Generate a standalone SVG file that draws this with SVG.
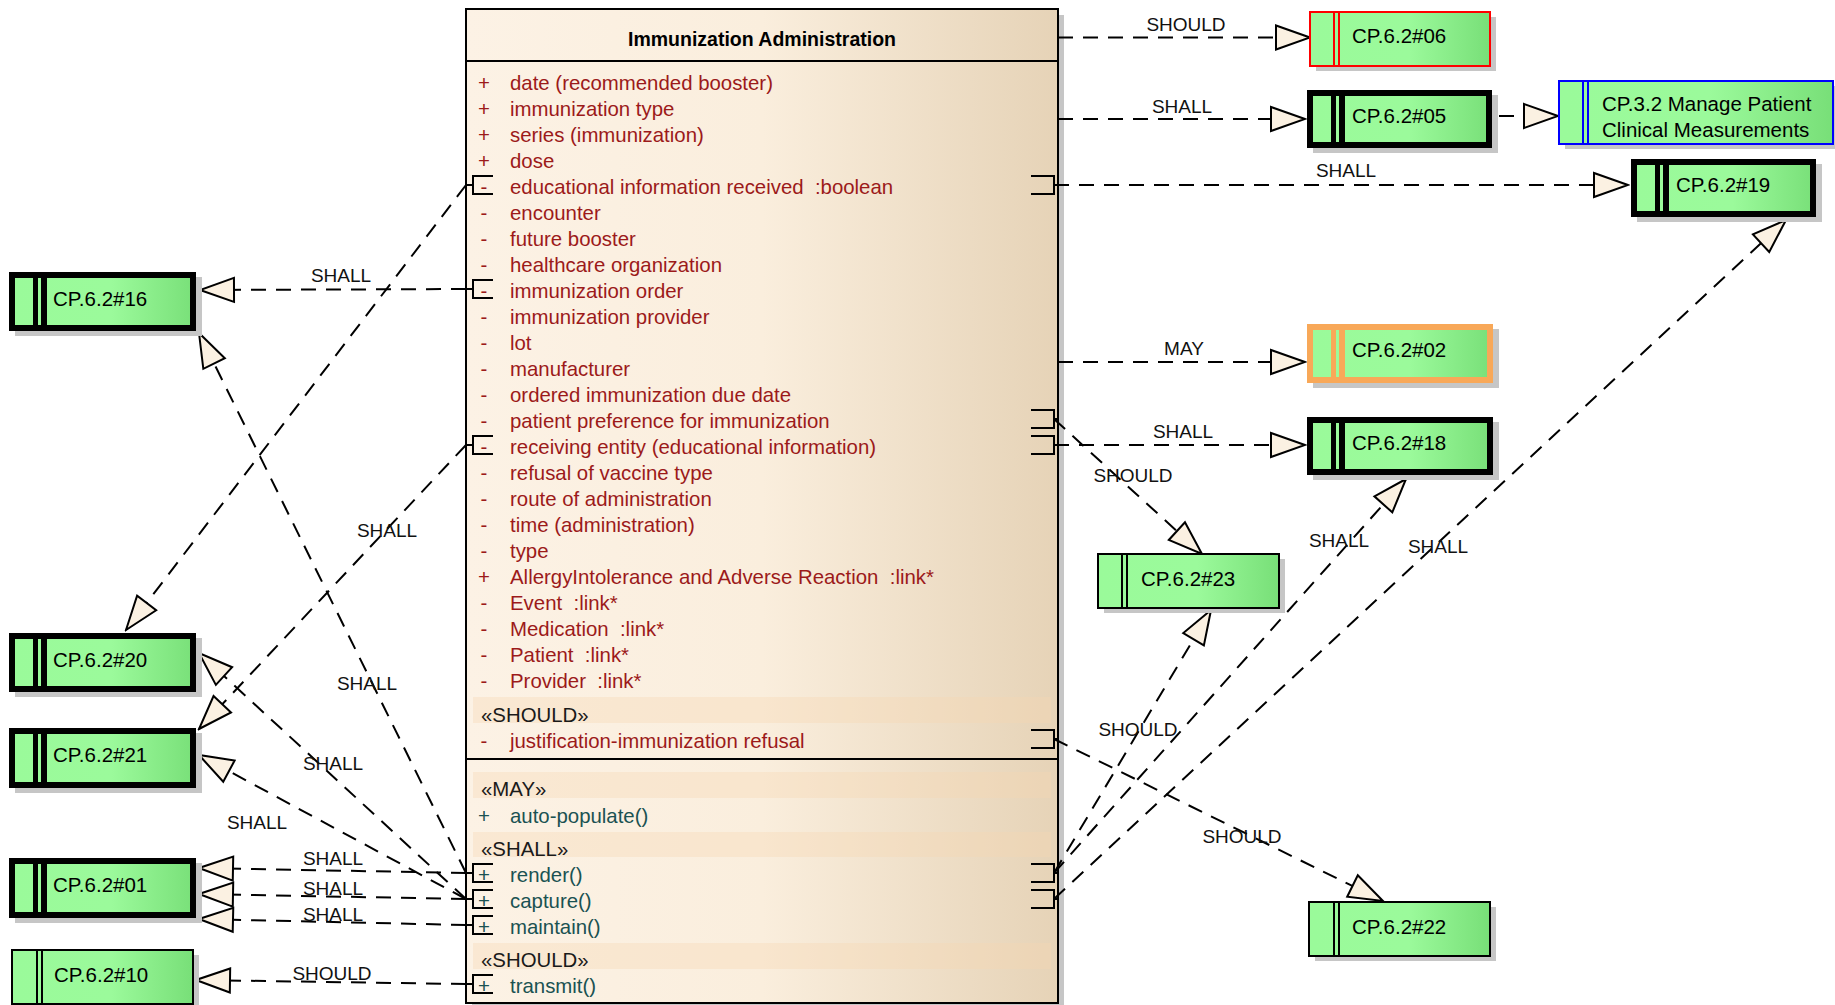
<svg xmlns="http://www.w3.org/2000/svg" width="1835" height="1005" viewBox="0 0 1835 1005">
<style>
text{font-family:"Liberation Sans",Arial,sans-serif;white-space:pre}
.lbl{font-size:19px;fill:#111;text-anchor:middle}
.nt{font-size:20.5px;fill:#000}
.at{font-size:20.4px;fill:#9C1A1A}
.op{font-size:20.4px;fill:#1A5252}
.st{font-size:20.4px;fill:#1a1a1a}
.sym{text-anchor:middle}
.title{font-size:19.5px;font-weight:bold;fill:#000;text-anchor:middle}
.conn path{stroke:#000;stroke-width:2;fill:none;stroke-dasharray:15 10}
.port{stroke:#000;stroke-width:2;fill:none}
.sh{fill:#C6C6C6}
.gf{fill:url(#gg)}
.band{fill:#F6D7B2;opacity:0.35}
.thin{fill:none;stroke-width:2}
.bar{stroke-width:2}
</style>
<defs>
<linearGradient id="gg" x1="0" y1="0" x2="1" y2="0">
<stop offset="0" stop-color="#9AFA9A"/>
<stop offset="0.55" stop-color="#9BFA9B"/>
<stop offset="1" stop-color="#78DF78"/>
</linearGradient>
<linearGradient id="cg" x1="0" y1="0" x2="1" y2="0">
<stop offset="0" stop-color="#FCF2E5"/>
<stop offset="0.5" stop-color="#FAEEDD"/>
<stop offset="1" stop-color="#E6D3B7"/>
</linearGradient>
<marker id="ar" markerUnits="userSpaceOnUse" markerWidth="38" markerHeight="28" viewBox="-36 -14 38 28" refX="0" refY="0" orient="auto">
<path d="M0,0 L-34,-12 L-34,12 Z" fill="#FBF1E2" stroke="#000" stroke-width="2" stroke-dasharray="none"/>
</marker>
</defs>
<rect width="1835" height="1005" fill="#fff"/>

<g id="class-immunization-administration">
<rect class="sh" x="472" y="15" width="592" height="990"/>
<rect x="466" y="9" width="592" height="994" fill="url(#cg)" stroke="#000" stroke-width="2"/>
<line x1="466" y1="61" x2="1058" y2="61" stroke="#000" stroke-width="2"/>
<text class="title" x="762" y="46">Immunization Administration</text>
<g class="at">
<text class="sym" x="484" y="90">+</text><text x="510" y="90">date (recommended booster)</text>
<text class="sym" x="484" y="116">+</text><text x="510" y="116">immunization type</text>
<text class="sym" x="484" y="142">+</text><text x="510" y="142">series (immunization)</text>
<text class="sym" x="484" y="168">+</text><text x="510" y="168">dose</text>
<text class="sym" x="484" y="194">-</text><text x="510" y="194">educational information received  :boolean</text>
<text class="sym" x="484" y="220">-</text><text x="510" y="220">encounter</text>
<text class="sym" x="484" y="246">-</text><text x="510" y="246">future booster</text>
<text class="sym" x="484" y="272">-</text><text x="510" y="272">healthcare organization</text>
<text class="sym" x="484" y="298">-</text><text x="510" y="298">immunization order</text>
<text class="sym" x="484" y="324">-</text><text x="510" y="324">immunization provider</text>
<text class="sym" x="484" y="350">-</text><text x="510" y="350">lot</text>
<text class="sym" x="484" y="376">-</text><text x="510" y="376">manufacturer</text>
<text class="sym" x="484" y="402">-</text><text x="510" y="402">ordered immunization due date</text>
<text class="sym" x="484" y="428">-</text><text x="510" y="428">patient preference for immunization</text>
<text class="sym" x="484" y="454">-</text><text x="510" y="454">receiving entity (educational information)</text>
<text class="sym" x="484" y="480">-</text><text x="510" y="480">refusal of vaccine type</text>
<text class="sym" x="484" y="506">-</text><text x="510" y="506">route of administration</text>
<text class="sym" x="484" y="532">-</text><text x="510" y="532">time (administration)</text>
<text class="sym" x="484" y="558">-</text><text x="510" y="558">type</text>
<text class="sym" x="484" y="584">+</text><text x="510" y="584">AllergyIntolerance and Adverse Reaction  :link*</text>
<text class="sym" x="484" y="610">-</text><text x="510" y="610">Event  :link*</text>
<text class="sym" x="484" y="636">-</text><text x="510" y="636">Medication  :link*</text>
<text class="sym" x="484" y="662">-</text><text x="510" y="662">Patient  :link*</text>
<text class="sym" x="484" y="688">-</text><text x="510" y="688">Provider  :link*</text>
</g>
<rect class="band" x="473" y="697" width="578" height="26"/>
<text class="st" x="481" y="722">«SHOULD»</text>
<g class="at">
<text class="sym" x="484" y="748">-</text><text x="510" y="748">justification-immunization refusal</text>
</g>
<line x1="466" y1="759" x2="1058" y2="759" stroke="#000" stroke-width="2"/>
<rect class="band" x="473" y="772" width="578" height="26"/>
<text class="st" x="481" y="796">«MAY»</text>
<g class="op">
<text class="sym" x="484" y="823">+</text><text x="510" y="823">auto-populate()</text>
</g>
<rect class="band" x="473" y="832" width="578" height="25"/>
<text class="st" x="481" y="856">«SHALL»</text>
<g class="op">
<text class="sym" x="484" y="882">+</text><text x="510" y="882">render()</text>
<text class="sym" x="484" y="908">+</text><text x="510" y="908">capture()</text>
<text class="sym" x="484" y="934">+</text><text x="510" y="934">maintain()</text>
</g>
<rect class="band" x="473" y="943" width="578" height="26"/>
<text class="st" x="481" y="967">«SHOULD»</text>
<g class="op">
<text class="sym" x="484" y="993">+</text><text x="510" y="993">transmit()</text>
</g>
<g class="port">
<path d="M493,176 H473 V194 H493 M466,185 H473"/>
<path d="M493,280 H473 V298 H493 M466,289 H473"/>
<path d="M493,436 H473 V454 H493 M466,445 H473"/>
<path d="M493,864 H473 V882 H493 M466,873 H473"/>
<path d="M493,890 H473 V908 H493 M466,899 H473"/>
<path d="M493,916 H473 V934 H493 M466,925 H473"/>
<path d="M493,975 H473 V993 H493 M466,984 H473"/>
<path d="M1031,176 H1054 V194 H1031 M1054,185 H1058"/>
<path d="M1031,410 H1054 V428 H1031 M1054,419 H1058"/>
<path d="M1031,436 H1054 V454 H1031 M1054,445 H1058"/>
<path d="M1031,730 H1054 V748 H1031 M1054,739 H1058"/>
<path d="M1031,864 H1054 V882 H1031 M1054,873 H1058"/>
<path d="M1031,890 H1054 V908 H1031 M1054,899 H1058"/>
</g>
</g>

<g id="connectors" class="conn">
<path d="M1058,37.5 L1310,37.5" marker-end="url(#ar)"/>
<path d="M1058,119 L1305,119" marker-end="url(#ar)"/>
<path d="M1499,116 L1558,116" marker-end="url(#ar)"/>
<path d="M1054,185 L1628,185" marker-end="url(#ar)"/>
<path d="M1058,362 L1305,362" marker-end="url(#ar)"/>
<path d="M1054,445 L1305,445" marker-end="url(#ar)"/>
<path d="M1054,419 L1202,554" marker-end="url(#ar)"/>
<path d="M1054,873 L1211,610" marker-end="url(#ar)"/>
<path d="M1054,873 L1406,479" marker-end="url(#ar)"/>
<path d="M1054,899 L1786,220" marker-end="url(#ar)"/>
<path d="M1054,739 L1383,901" marker-end="url(#ar)"/>
<path d="M466,289 L200,290" marker-end="url(#ar)"/>
<path d="M466,185 L126,630" marker-end="url(#ar)"/>
<path d="M466,445 L199,729" marker-end="url(#ar)"/>
<path d="M466,873 L199,333" marker-end="url(#ar)"/>
<path d="M466,899 L199,653" marker-end="url(#ar)"/>
<path d="M466,899 L199,755" marker-end="url(#ar)"/>
<path d="M466,873 L199,868" marker-end="url(#ar)"/>
<path d="M466,899 L199,894" marker-end="url(#ar)"/>
<path d="M466,925 L199,919" marker-end="url(#ar)"/>
<path d="M466,984 L196,980" marker-end="url(#ar)"/>
</g>

<g id="connector-labels">
<text class="lbl" x="1186" y="31">SHOULD</text>
<text class="lbl" x="1182" y="113">SHALL</text>
<text class="lbl" x="1346" y="177">SHALL</text>
<text class="lbl" x="1184" y="355">MAY</text>
<text class="lbl" x="1183" y="438">SHALL</text>
<text class="lbl" x="1133" y="482">SHOULD</text>
<text class="lbl" x="1339" y="547">SHALL</text>
<text class="lbl" x="1438" y="553">SHALL</text>
<text class="lbl" x="1138" y="736">SHOULD</text>
<text class="lbl" x="1242" y="843">SHOULD</text>
<text class="lbl" x="341" y="282">SHALL</text>
<text class="lbl" x="387" y="537">SHALL</text>
<text class="lbl" x="367" y="690">SHALL</text>
<text class="lbl" x="333" y="770">SHALL</text>
<text class="lbl" x="257" y="829">SHALL</text>
<text class="lbl" x="333" y="865">SHALL</text>
<text class="lbl" x="333" y="895">SHALL</text>
<text class="lbl" x="333" y="921">SHALL</text>
<text class="lbl" x="332" y="980">SHOULD</text>
</g>

<g id="n-cp-6-2-06">
<rect class="sh" x="1316" y="17" width="180" height="54"/>
<rect class="gf" x="1310" y="12" width="180" height="54"/>
<rect class="thin" x="1310" y="12" width="180" height="54" stroke="#FF0000"/>
<path class="bar" d="M1334,12 V66 M1339,12 V66" stroke="#FF0000"/>
<text class="nt" x="1352" y="43">CP.6.2#06</text>
</g>

<g id="n-cp-6-2-05">
<rect class="sh" x="1313" y="95" width="185" height="58"/>
<rect class="gf" x="1307" y="90" width="185" height="58"/>
<rect x="1310" y="93" width="179" height="52" fill="none" stroke="#000" stroke-width="6"/>
<rect x="1331" y="90" width="5" height="58" fill="#000"/>
<rect x="1339" y="90" width="6" height="58" fill="#000"/>
<text class="nt" x="1352" y="123">CP.6.2#05</text>
</g>

<g id="n-cp-3-2">
<rect class="sh" x="1565" y="86" width="274" height="63"/>
<rect class="gf" x="1559" y="81" width="274" height="63"/>
<rect class="thin" x="1559" y="81" width="274" height="63" stroke="#0000FF"/>
<path class="bar" d="M1583,81 V144 M1588,81 V144" stroke="#0000FF"/>
<text class="nt" x="1602" y="111">CP.3.2 Manage Patient</text>
<text class="nt" x="1602" y="137">Clinical Measurements</text>
</g>

<g id="n-cp-6-2-19">
<rect class="sh" x="1637" y="164" width="185" height="58"/>
<rect class="gf" x="1631" y="159" width="185" height="58"/>
<rect x="1634" y="162" width="179" height="52" fill="none" stroke="#000" stroke-width="6"/>
<rect x="1655" y="159" width="5" height="58" fill="#000"/>
<rect x="1663" y="159" width="6" height="58" fill="#000"/>
<text class="nt" x="1676" y="192">CP.6.2#19</text>
</g>

<g id="n-cp-6-2-02">
<rect class="sh" x="1313" y="329" width="186" height="59"/>
<rect class="gf" x="1307" y="324" width="186" height="59"/>
<rect x="1310" y="327" width="180" height="53" fill="none" stroke="#F8A858" stroke-width="6"/>
<rect x="1331" y="324" width="5" height="59" fill="#F8A858"/>
<rect x="1339" y="324" width="6" height="59" fill="#F8A858"/>
<text class="nt" x="1352" y="357">CP.6.2#02</text>
</g>

<g id="n-cp-6-2-18">
<rect class="sh" x="1313" y="422" width="186" height="58"/>
<rect class="gf" x="1307" y="417" width="186" height="58"/>
<rect x="1310" y="420" width="180" height="52" fill="none" stroke="#000" stroke-width="6"/>
<rect x="1331" y="417" width="5" height="58" fill="#000"/>
<rect x="1339" y="417" width="6" height="58" fill="#000"/>
<text class="nt" x="1352" y="450">CP.6.2#18</text>
</g>

<g id="n-cp-6-2-23">
<rect class="sh" x="1104" y="559" width="181" height="54"/>
<rect class="gf" x="1098" y="554" width="181" height="54"/>
<rect class="thin" x="1098" y="554" width="181" height="54" stroke="#000"/>
<path class="bar" d="M1122,554 V608 M1127,554 V608" stroke="#000"/>
<text class="nt" x="1141" y="586">CP.6.2#23</text>
</g>

<g id="n-cp-6-2-22">
<rect class="sh" x="1315" y="907" width="181" height="54"/>
<rect class="gf" x="1309" y="902" width="181" height="54"/>
<rect class="thin" x="1309" y="902" width="181" height="54" stroke="#000"/>
<path class="bar" d="M1334,902 V956 M1339,902 V956" stroke="#000"/>
<text class="nt" x="1352" y="934">CP.6.2#22</text>
</g>

<g id="n-cp-6-2-16">
<rect class="sh" x="15" y="277" width="187" height="59"/>
<rect class="gf" x="9" y="272" width="187" height="59"/>
<rect x="12" y="275" width="181" height="53" fill="none" stroke="#000" stroke-width="6"/>
<rect x="33" y="272" width="5" height="59" fill="#000"/>
<rect x="41" y="272" width="6" height="59" fill="#000"/>
<text class="nt" x="53" y="306">CP.6.2#16</text>
</g>

<g id="n-cp-6-2-20">
<rect class="sh" x="15" y="638" width="187" height="59"/>
<rect class="gf" x="9" y="633" width="187" height="59"/>
<rect x="12" y="636" width="181" height="53" fill="none" stroke="#000" stroke-width="6"/>
<rect x="33" y="633" width="5" height="59" fill="#000"/>
<rect x="41" y="633" width="6" height="59" fill="#000"/>
<text class="nt" x="53" y="667">CP.6.2#20</text>
</g>

<g id="n-cp-6-2-21">
<rect class="sh" x="15" y="733" width="187" height="60"/>
<rect class="gf" x="9" y="728" width="187" height="60"/>
<rect x="12" y="731" width="181" height="54" fill="none" stroke="#000" stroke-width="6"/>
<rect x="33" y="728" width="5" height="60" fill="#000"/>
<rect x="41" y="728" width="6" height="60" fill="#000"/>
<text class="nt" x="53" y="762">CP.6.2#21</text>
</g>

<g id="n-cp-6-2-01">
<rect class="sh" x="15" y="863" width="187" height="60"/>
<rect class="gf" x="9" y="858" width="187" height="60"/>
<rect x="12" y="861" width="181" height="54" fill="none" stroke="#000" stroke-width="6"/>
<rect x="33" y="858" width="5" height="60" fill="#000"/>
<rect x="41" y="858" width="6" height="60" fill="#000"/>
<text class="nt" x="53" y="892">CP.6.2#01</text>
</g>

<g id="n-cp-6-2-10">
<rect class="sh" x="18" y="955" width="181" height="54"/>
<rect class="gf" x="12" y="950" width="181" height="54"/>
<rect class="thin" x="12" y="950" width="181" height="54" stroke="#000"/>
<path class="bar" d="M37,950 V1004 M42,950 V1004" stroke="#000"/>
<text class="nt" x="54" y="982">CP.6.2#10</text>
</g>
</svg>
